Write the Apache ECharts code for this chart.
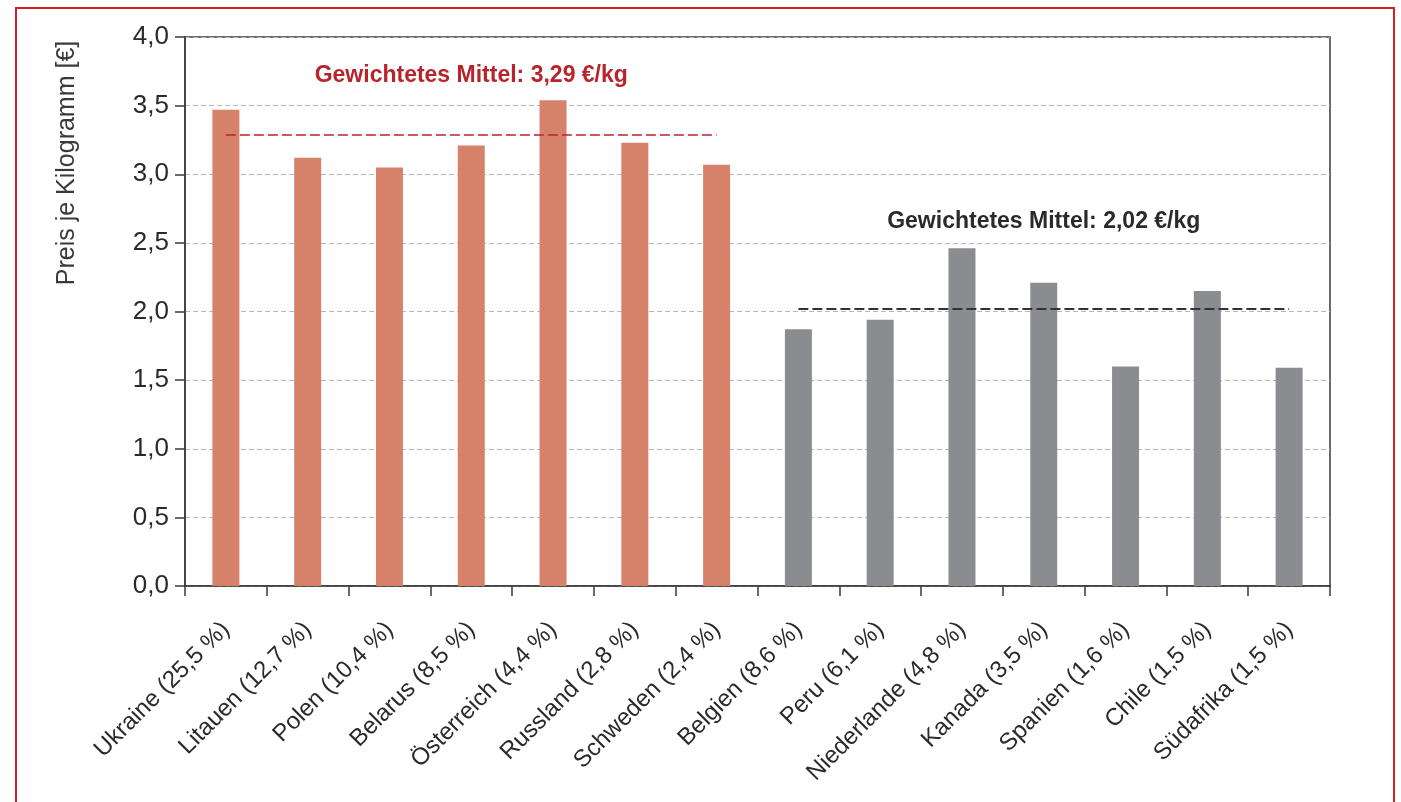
<!DOCTYPE html>
<html>
<head>
<meta charset="utf-8">
<script src="https://cdn.jsdelivr.net/npm/echarts@6/dist/echarts.min.js"></script>
<style>
  html, body { margin: 0; padding: 0; background: #fff; }
  #frame { position: absolute; left: 15px; top: 7px; width: 1380px; height: 820px; border: 2px solid #cc2229; box-sizing: border-box; z-index: 2; pointer-events: none; }
  #chart { position: absolute; left: 0; top: 0; width: 1401px; height: 802px; z-index: 1; }
</style>
</head>
<body>
<div id="frame"></div>
<div id="chart"></div>
<script>
// Länder mit Importanteil
const countries = [
  'Ukraine (25,5 %)', 'Litauen (12,7 %)', 'Polen (10,4 %)', 'Belarus (8,5 %)',
  'Österreich (4,4 %)', 'Russland (2,8 %)', 'Schweden (2,4 %)',
  'Belgien (8,6 %)', 'Peru (6,1 %)', 'Niederlande (4,8 %)', 'Kanada (3,5 %)',
  'Spanien (1,6 %)', 'Chile (1,5 %)', 'Südafrika (1,5 %)'
]
// Preis je Kilogramm [€]
const prices = [3.47, 3.12, 3.05, 3.21, 3.54, 3.23, 3.07, 1.87, 1.94, 2.46, 2.21, 1.60, 2.15, 1.59]
// erste Gruppe (orange) = erste 7 Länder
const firstGroupSize = 7
const meanFirst = 3.29
const meanSecond = 2.02
const yTicks = [0, 0.5, 1, 1.5, 2, 2.5, 3, 3.5, 4]

const orange = '#d6826a'
const grey = '#8b8c90'
const red = '#b8232c'

const chart = echarts.init(document.getElementById('chart'))

const barData = prices.map((v, i) => ({
  value: v,
  itemStyle: { color: i < firstGroupSize ? orange : grey }
}))

const option = {
  animation: false,
  grid: {
    left: 185, right: 71, top: 37, bottom: 216,
    show: true, borderColor: '#3a3a3a', borderWidth: 1.5
  },
  xAxis: {
    type: 'category',
    data: countries,
    axisLine: { lineStyle: { color: '#3a3a3a', width: 1.5 } },
    axisTick: { show: true, interval: 0, length: 10, lineStyle: { color: '#3a3a3a', width: 1.5 } },
    axisLabel: {
      interval: 0, rotate: 45, margin: 40,
      fontFamily: 'Liberation Sans, Arial, sans-serif', fontSize: 24, color: '#2a2a2a'
    }
  },
  yAxis: {
    type: 'value',
    min: yTicks[0], max: yTicks[yTicks.length - 1], interval: 0.5,
    axisLine: { show: true, lineStyle: { color: '#3a3a3a', width: 1.5 } },
    axisTick: { show: true, length: 10, lineStyle: { color: '#3a3a3a', width: 1.5 } },
    axisLabel: {
      margin: 16,
      fontFamily: 'Liberation Sans, Arial, sans-serif', fontSize: 26, color: '#2a2a2a',
      formatter: v => v.toFixed(1).replace('.', ',')
    },
    splitLine: {
      show: true,
      lineStyle: { type: [5, 3], color: '#b8b8b8', width: 1 }
    }
  },
  graphic: [{
    type: 'text',
    x: 67, y: 163,
    rotation: Math.PI / 2,
    style: {
      text: 'Preis je Kilogramm [€]',
      fontFamily: 'Liberation Sans, Arial, sans-serif', fontSize: 25, fill: '#3a3a3a',
      align: 'center', verticalAlign: 'middle'
    }
  }],
  series: [{
    type: 'bar',
    data: barData,
    barWidth: 27,
    markLine: {
      silent: true,
      symbol: 'none',
      data: [
        [
          {
            coord: [countries[0], meanFirst],
            lineStyle: { color: red, type: [10, 4], width: 1.5 },
            label: {
              show: true, position: 'insideMiddleTop', distance: 47,
              formatter: 'Gewichtetes Mittel: 3,29 €/kg',
              fontFamily: 'Liberation Sans, Arial, sans-serif',
              fontWeight: 'bold', fontSize: 23, color: red
            }
          },
          { coord: [countries[firstGroupSize - 1], meanFirst] }
        ],
        [
          {
            coord: [countries[firstGroupSize], meanSecond],
            lineStyle: { color: '#333', type: [10, 4], width: 1.8 },
            label: {
              show: true, position: 'insideMiddleTop', distance: 76,
              formatter: 'Gewichtetes Mittel: 2,02 €/kg',
              fontFamily: 'Liberation Sans, Arial, sans-serif',
              fontWeight: 'bold', fontSize: 23, color: '#2a2a2a'
            }
          },
          { coord: [countries[countries.length - 1], meanSecond] }
        ]
      ]
    }
  }]
}

chart.setOption(option)
</script>
</body>
</html>
